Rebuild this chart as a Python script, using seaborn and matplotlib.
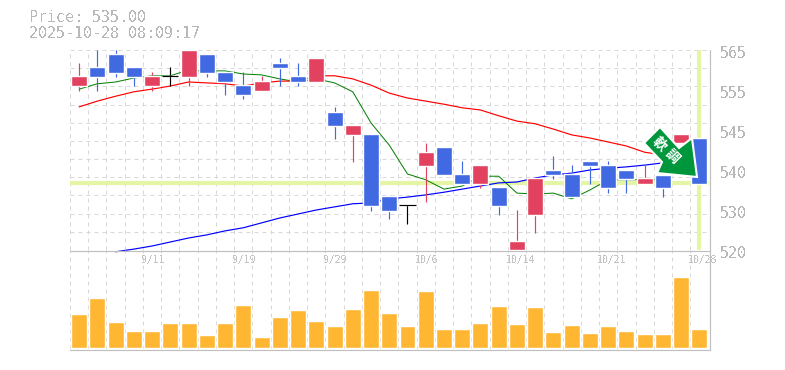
import numpy as np
import pandas as pd
import matplotlib
matplotlib.use('Agg')
import matplotlib.pyplot as plt
from matplotlib.patches import Polygon
import seaborn as sns

W, H = 785, 370

# candles, in yen
body_top = [559.2, 561.2, 564.1, 561.2, 559.2, 559.2, 565.0, 564.1, 560.1, 557.1, 558.0, 562.1,
            559.2, 563.2, 551.0, 548.1, 546.1, 532.2, 530.1, 542.0, 543.2, 537.1, 539.1, 534.2,
            522.0, 536.2, 538.0, 537.1, 540.0, 539.1, 538.0, 536.2, 536.9, 546.1, 545.2]
body_bottom = [556.9, 558.9, 559.8, 558.9, 556.9, 559.2, 558.9, 559.8, 557.8, 554.9, 555.8, 561.0,
               557.8, 557.8, 547.9, 545.9, 529.9, 528.8, 530.1, 538.9, 536.9, 534.9, 534.9, 529.9,
               520.0, 527.9, 536.9, 531.9, 538.9, 534.0, 536.0, 534.9, 534.0, 544.1, 534.9]
wick_high = [562.1, 565.0, 565.0, 561.2, 560.1, 561.2, 565.0, 564.1, 560.1, 560.1, 559.2, 563.2,
             562.1, 563.2, 552.2, 548.1, 546.1, 532.2, 530.1, 544.1, 543.2, 540.0, 539.1, 534.2,
             529.0, 536.2, 541.2, 539.1, 540.0, 540.0, 538.0, 539.1, 536.9, 546.1, 545.2]
wick_low = [555.8, 555.8, 558.9, 556.9, 555.8, 556.9, 556.9, 558.9, 554.9, 554.0, 555.8, 556.9,
            556.9, 557.8, 545.0, 539.8, 528.8, 527.0, 525.9, 530.8, 536.9, 534.9, 534.0, 527.9,
            520.0, 523.8, 536.0, 531.9, 534.9, 532.8, 532.8, 534.9, 531.9, 544.1, 534.9]
# 0 = blue, 1 = red, 2 = black
candle_kind = [1, 0, 0, 0, 1, 2, 1, 0, 0, 0, 1, 0, 0, 1, 0, 1, 0, 0, 2, 1, 0, 0, 1, 0, 1, 1,
               0, 0, 0, 0, 0, 1, 0, 1, 0]

ma_short = [556.2, 557.4, 557.8, 558.7, 559.2, 559.2, 560.5, 560.3, 560.3, 559.6, 559.4, 558.5,
            557.8, 558.5, 557.6, 555.6, 548.6, 543.6, 537.1, 535.8, 533.7, 534.4, 536.6, 536.6,
            532.8, 532.6, 532.8, 531.5, 533.5, 535.8, 535.8, 535.8, 535.8]
ma_mid = [552.2, 553.5, 554.6, 555.6, 556.2, 556.9, 557.8, 557.6, 557.4, 556.9, 557.6, 558.0,
          558.0, 559.2, 559.2, 558.5, 557.1, 555.3, 554.2, 553.5, 552.8, 552.0, 551.5, 550.2,
          549.0, 548.4, 547.2, 545.9, 545.2, 544.3, 543.4, 542.0, 541.4]
ma_long = [519.6, 520.2, 520.9, 521.8, 522.7, 523.4, 524.3, 525.0, 526.1, 527.2, 528.1, 529.0,
           529.7, 530.4, 530.6, 531.5, 531.9, 532.4, 533.0, 533.7, 534.4, 535.1, 535.3, 536.2,
           536.9, 537.3, 538.0, 538.4, 538.7, 539.1, 539.6]

volumes = [34, 50, 26, 17, 17, 25, 25, 13, 25, 43, 11, 31, 38, 27, 22, 39, 58, 35, 22, 57,
           19, 19, 25, 42, 24, 41, 16, 23, 15, 22, 17, 14, 14, 71, 19]

price_labels = ['565', '555', '545', '540', '530', '520']
date_labels = ['9/11', '9/19', '9/29', '10/6', '10/14', '10/21', '10/28']
date_pos = [4, 9, 14, 19, 24, 29, 34]

BLUE = '#4169e1'
RED = '#e2425f'
GRID = '#d8d8d8'
AXIS = '#bfbfbf'
TEXT = '#b8b8b8'
PALE = '#e4f5a6'
PX = 0.72  # one pixel in points


def px_axes(fig, left, top, right, bottom):
    return fig.add_axes([left / W, 1 - bottom / H, (right - left) / W, (bottom - top) / H])


sns.set_style('white')
plt.rcParams['text.antialiased'] = False
fig = plt.figure(figsize=(W / 100, H / 100), dpi=100)
ax = px_axes(fig, 70, 50, 708.5, 250)
vol = px_axes(fig, 70, 250, 708.5, 349)

idx = np.arange(len(body_top))
edges = np.arange(-0.5, 35, 1)

for a in (ax, vol):
    a.set_xlim(-0.5, 34.5)
    a.patch.set_alpha(0)
    a.set_xticks([])
    a.set_yticks([])
    for s in a.spines.values():
        s.set_visible(False)
    a.vlines(edges, 0, 1, transform=a.get_xaxis_transform(), color=GRID, lw=PX, ls=(0, (4, 4)), zorder=0)

# price panel
ax.set_ylim(520, 565)
ax.hlines(np.linspace(520, 565, 12), -0.5, 34.5, color=GRID, lw=PX, ls=(0, (4, 4)), zorder=0)
ax.axhline(535, color=PALE, lw=3, zorder=1)
ax.axvline(34, ymin=0.005, ymax=0.995, color=PALE, lw=3, zorder=1)

lines = pd.DataFrame({'i': idx[:33], 'short': ma_short, 'mid': ma_mid})
sns.lineplot(data=lines, x='i', y='short', color='#008000', lw=PX, ax=ax, zorder=2)
sns.lineplot(data=lines, x='i', y='mid', color='#ff0000', lw=0.85, ax=ax, zorder=2)
long_df = pd.DataFrame({'i': idx[2:33], 'long': ma_long})
sns.lineplot(data=long_df, x='i', y='long', color='#0000ff', lw=0.85, ax=ax, zorder=2, clip_on=False)
ax.set_xlabel('')
ax.set_ylabel('')

kind_colors = [BLUE, RED, 'black']
colors = [kind_colors[k] for k in candle_kind]
ax.vlines(idx, wick_low, wick_high, colors=colors, lw=0.85, zorder=3)
ax.bar(idx, np.array(body_top) - np.array(body_bottom), bottom=body_bottom, width=0.875,
       color=colors, zorder=3)
for i in idx:
    if candle_kind[i] == 2:
        ax.hlines(body_top[i], i - 0.44, i + 0.44, color='black', lw=0.85, zorder=3)

# volume panel
vol_df = pd.DataFrame({'i': idx, 'volume': volumes})
sns.barplot(data=vol_df, x='i', y='volume', native_scale=True, color='#ffb733', saturation=1,
            width=0.875, ax=vol, zorder=2)
vol.set_xlim(-0.5, 34.5)
vol.set_ylim(-1, 98)
vol.set_xlabel('')
vol.set_ylabel('')
vol.set_xticks([])
vol.set_yticks([])

# solid frame lines
fig.add_artist(plt.Line2D([70 / W, 710 / W], [1 - 250.5 / H] * 2, color=AXIS, lw=0.85))
fig.add_artist(plt.Line2D([70 / W, 710 / W], [1 - 349.5 / H] * 2, color=AXIS, lw=0.85))
fig.add_artist(plt.Line2D([709.5 / W] * 2, [1 - 50 / H, 1 - 350 / H], color=AXIS, lw=0.85))

# texts
mono = 'DejaVu Sans Mono'
fig.text(29 / W, 1 - 17.5 / H, 'Price: 535.00', family=mono, fontsize=10.8, color=TEXT, va='center')
fig.text(29 / W, 1 - 33 / H, '2025-10-28 08:09:17', family=mono, fontsize=10.8, color=TEXT, va='center')
for n, lab in enumerate(price_labels):
    fig.text(719.5 / W, 1 - (53 + 40 * n) / H, lab, family=mono, fontsize=10.8, color=TEXT, va='center')
for pos, lab in zip(date_pos, date_labels):
    vol.annotate(lab, (pos - 0.5, 1), xycoords=vol.get_xaxis_transform(), xytext=(-2, -10),
                 textcoords='offset pixels', family=mono, fontsize=7, color='#c4c4c4', va='center', zorder=5)

# signal arrow
arrow_px = [(660, 127), (644, 143), (662, 162), (657, 173), (697, 177), (692, 138), (679, 148)]
arrow_fig = [(x / W, 1 - y / H) for x, y in arrow_px]
fig.add_artist(Polygon(arrow_fig, closed=True, transform=fig.transFigure, facecolor='#00963c',
                       edgecolor='white', lw=1.5, zorder=6))
jp = ['Noto Sans CJK JP', 'DejaVu Sans']
for ch, cx, cy in [('軟', 659, 144), ('調', 672, 156)]:
    t = fig.text(cx / W, 1 - cy / H, ch, family=jp, fontsize=10, weight='bold', color='white',
                 rotation=-45, ha='center', va='center', rotation_mode='anchor', zorder=7)
    t.set_antialiased(True)

plt.savefig('out.png', dpi=100)
